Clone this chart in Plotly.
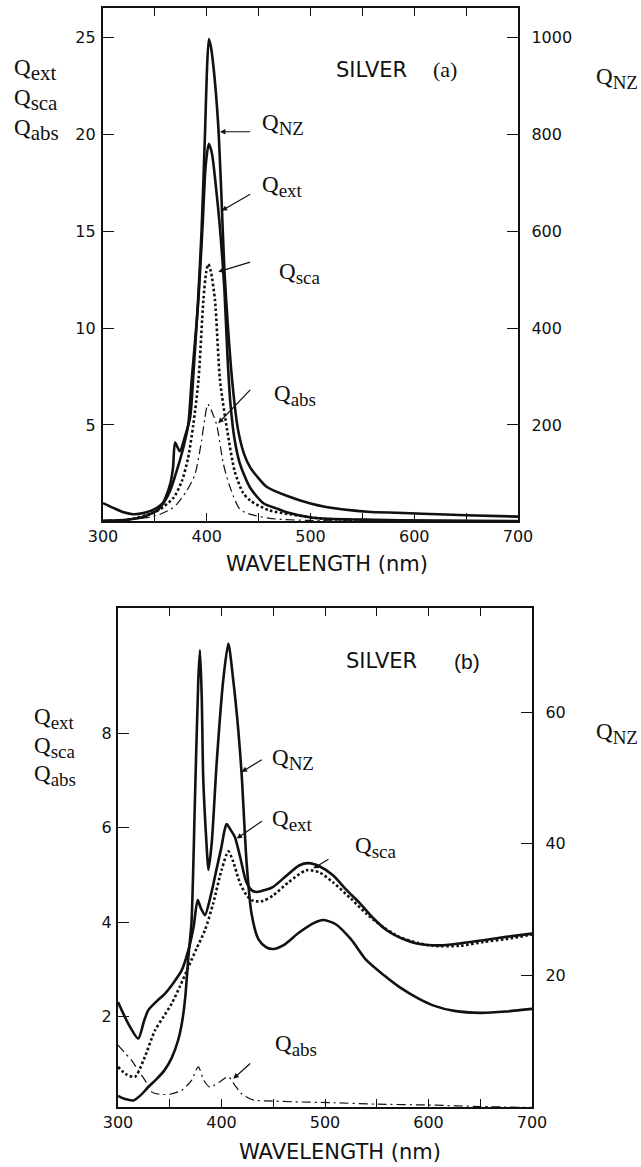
import plotly.graph_objects as go

W, H = 641, 1167

# ---------------- Panel (a) ----------------
wl_nz_a = [300, 310, 320, 329, 340, 352, 358, 361.7, 365, 367.5, 369.5, 374, 379, 384, 387,
           391.6, 395, 398.3, 400, 402, 404, 407, 411, 414, 417, 420.5, 425, 430, 436, 442,
           450, 458, 477, 500, 515, 555, 583, 608, 650, 700]
qnz_a = [39, 29, 20, 16, 19, 29, 40, 58, 80, 112, 164, 146, 176, 216, 300,
         456, 600, 800, 920, 996, 980, 928, 820, 680, 520, 400, 280, 192, 140, 112,
         90, 72, 54, 38, 31, 21, 19, 17, 14, 11]

wl_ext_a = [300, 315, 325, 335.7, 345, 351.7, 358, 364.6, 371, 377.4, 382.2, 385.4, 389, 392,
            396, 399, 402, 405, 409, 413, 417, 420, 423, 427, 432, 442, 455, 467, 477, 502,
            550, 620, 700]
qext_a = [0.05, 0.08, 0.13, 0.22, 0.4, 0.57, 0.95, 1.6, 2.63, 3.83, 5.03, 7.27, 9.5, 11.5,
          15.3, 18.4, 19.5, 19.0, 17.2, 15.0, 12.0, 8.5, 6.0, 4.2, 3.0, 1.75, 0.95, 0.7, 0.5, 0.22,
          0.12, 0.07, 0.05]

wl_sca_a = [300, 320, 342, 355, 368, 376, 382, 387, 392, 396.7, 399.5, 401.5, 404, 408,
            412.8, 419.8, 427, 435, 442, 460, 480, 512, 560, 620, 700]
qsca_a = [0.02, 0.08, 0.35, 0.65, 1.25, 2.1, 3.3, 5.0, 7.3, 11.4, 12.9, 13.3, 12.9, 11.4,
          7.3, 4.7, 2.6, 1.5, 1.1, 0.6, 0.4, 0.17, 0.09, 0.05, 0.03]

wl_abs_a = [300, 320, 342, 355, 365, 371, 380.6, 388.7, 395, 398, 401, 404, 409.6, 416,
            422.4, 432, 445, 467, 500, 600, 700]
qabs_a = [0.1, 0.12, 0.22, 0.4, 0.65, 0.91, 1.6, 2.46, 4.2, 5.3, 6.07, 5.8, 5.0, 3.0,
          1.8, 0.65, 0.35, 0.15, 0.08, 0.03, 0.02]

# ---------------- Panel (b) ----------------
wl_nz_b = [300, 307, 315, 322, 329, 337, 345, 352, 358, 362, 365, 368, 371, 374.4, 377.6,
           379.2, 380.9, 382.4, 385.7, 387.3, 390.5, 395.3, 401.7, 406.6, 411.3, 416.2, 419.4,
           424.3, 429, 435.6, 443, 450, 460, 475, 490, 498, 510, 525, 540, 557, 572, 590,
           605, 625, 650, 675, 700]
qnz_b = [1.7, 1.2, 1.0, 1.8, 3.0, 4.2, 5.6, 7.5, 10.1, 13, 16.7, 22.8, 28, 47, 65,
         69.4, 62.3, 49.7, 39.5, 36, 40, 52.2, 64.9, 70.4, 64.9, 57.3, 50.7,
         37, 29.4, 25.5, 24.3, 24.0, 24.6, 26.5, 28.0, 28.4, 27.8, 25.5, 22.3, 20, 18.2, 16.5,
         15.4, 14.6, 14.3, 14.5, 14.9]

wl_ext_b = [300, 310, 319.6, 325, 329.3, 337, 345.4, 353, 361.5, 368, 373, 377, 380, 384,
            390, 395, 400, 403, 405, 409, 413, 418, 424, 429, 434, 442, 450, 463, 475, 484,
            495, 508, 520, 533.8, 546, 559.6, 575, 588.6, 611, 630, 653, 675, 700]
qext_b = [2.31, 1.85, 1.54, 1.9, 2.14, 2.32, 2.49, 2.7, 2.98, 3.41, 3.9, 4.47, 4.3, 4.15,
          4.6, 5.1, 5.6, 5.95, 6.08, 5.95, 5.8, 5.38, 4.85, 4.68, 4.64, 4.68, 4.75, 4.99, 5.2, 5.25,
          5.18, 4.99, 4.7, 4.4, 4.1, 3.83, 3.65, 3.55, 3.51, 3.55, 3.62, 3.69, 3.76]

wl_sca_b = [300, 308, 316.4, 325, 335.7, 344, 351.9, 360, 368, 376, 384, 392, 400, 406.6,
            411, 418, 425, 431, 440, 450, 465, 482, 495, 508, 525, 540, 556, 572, 590, 605,
            630, 653, 680, 700]
qsca_b = [0.94, 0.78, 0.73, 1.1, 1.71, 2.0, 2.28, 2.65, 3.05, 3.45, 3.83, 4.4, 5.1, 5.5,
          5.3, 4.82, 4.55, 4.45, 4.45, 4.57, 4.85, 5.1, 5.05, 4.84, 4.5, 4.18, 3.9, 3.69, 3.56, 3.5,
          3.5, 3.58, 3.66, 3.74]

wl_abs_b = [300, 306, 313, 320, 326, 332.5, 340, 350, 361.5, 367, 371.2, 377.6, 383, 388.9,
            398, 406.6, 413, 419.4, 426, 432.4, 443.7, 470, 508, 550, 604, 650, 700]
qabs_b = [1.4, 1.25, 1.08, 0.85, 0.66, 0.41, 0.36, 0.36, 0.44, 0.55, 0.66, 0.94, 0.65, 0.51,
          0.62, 0.73, 0.55, 0.37, 0.28, 0.23, 0.22, 0.2, 0.18, 0.15, 0.13, 0.1, 0.08]

# axis ticks
x_ticks = list(range(300, 701, 50))
x_text = [str(v) if v % 100 == 0 else "" for v in x_ticks]
ya_left_ticks = [5, 10, 15, 20, 25]
ya_right_ticks = [200, 400, 600, 800, 1000]
yb_left_ticks = [2, 4, 6, 8]
yb_right_ticks = [20, 40, 60]

INK = "#111111"
SOLID = dict(color=INK, width=2.6)
DOTTED = dict(color=INK, width=2.6, dash="2.6px,2.4px")
DASHDOT = dict(color=INK, width=1.2, dash="9px,4px,2px,4px")


def curve(x, y, line, xa, ya):
    return go.Scatter(x=x, y=y, mode="lines", line=dict(shape="spline", smoothing=0.7, **line),
                      xaxis=xa, yaxis=ya, showlegend=False, hoverinfo="skip")


fig = go.Figure()
fig.add_trace(curve(wl_nz_a, qnz_a, SOLID, "x", "y2"))
fig.add_trace(curve(wl_ext_a, qext_a, SOLID, "x", "y"))
fig.add_trace(curve(wl_sca_a, qsca_a, DOTTED, "x", "y"))
fig.add_trace(curve(wl_abs_a, qabs_a, DASHDOT, "x", "y"))
fig.add_trace(curve(wl_nz_b, qnz_b, SOLID, "x2", "y4"))
fig.add_trace(curve(wl_ext_b, qext_b, SOLID, "x2", "y3"))
fig.add_trace(curve(wl_sca_b, qsca_b, DOTTED, "x2", "y3"))
fig.add_trace(curve(wl_abs_b, qabs_b, DASHDOT, "x2", "y3"))


def px(v):
    return v / W


def py(v):
    return 1 - v / H


TICKFONT = dict(family="DejaVu Sans", size=16, color=INK)
frame = dict(showline=True, linecolor=INK, linewidth=2.4, showgrid=False, zeroline=False,
             ticks="inside", tickcolor=INK, tickwidth=1.4, tickfont=TICKFONT, automargin=False)

xa = dict(frame, tickmode="array", tickvals=x_ticks, ticktext=x_text, range=[300, 700],
          ticklen=8, mirror="ticks")

fig.update_layout(
    width=W, height=H, autosize=False,
    margin=dict(l=0, r=0, t=0, b=0, pad=0),
    paper_bgcolor="white", plot_bgcolor="white",
    xaxis=dict(xa, domain=[px(103), px(518)], anchor="y"),
    yaxis=dict(frame, domain=[py(521), py(8)], range=[0.05, 26.5], anchor="x",
               tickmode="array", tickvals=ya_left_ticks, ticklen=11, ticklabelstandoff=2),
    yaxis2=dict(frame, overlaying="y", side="right", range=[2, 1060], anchor="x",
                tickmode="array", tickvals=ya_right_ticks, ticklen=11, ticklabelstandoff=8),
    xaxis2=dict(xa, domain=[px(118), px(532)], anchor="y3"),
    yaxis3=dict(frame, domain=[py(1107), py(608)], range=[0.09, 10.65], anchor="x2",
                tickmode="array", tickvals=yb_left_ticks, ticklen=11, ticklabelstandoff=1),
    yaxis4=dict(frame, overlaying="y3", side="right", range=[0, 75.8], anchor="x2",
                tickmode="array", tickvals=yb_right_ticks, ticklen=11, ticklabelstandoff=8),
)

SERIF = "Liberation Serif"
ann = []


def qlabel(name, x, y, xref="paper", yref="paper", size=23, sub=19):
    text = f'Q<sub><span style="font-size:{sub}px">{name}</span></sub>'
    ann.append(dict(text=text, x=x, y=y, xref=xref, yref=yref,
                    xanchor="left", yanchor="middle", showarrow=False,
                    font=dict(family=SERIF, size=size, color=INK)))


def pointer(x0, y0, x1, y1, xref, yref):
    ann.append(dict(text="", x=x1, y=y1, ax=x0, ay=y0, xref=xref, yref=yref,
                    axref=xref, ayref=yref, showarrow=True, arrowhead=2,
                    arrowsize=0.9, arrowwidth=1.2, arrowcolor=INK))


def plain(text, x, y, family, size):
    ann.append(dict(text=text, x=x, y=y, xref="paper", yref="paper", xanchor="left",
                    yanchor="middle", showarrow=False,
                    font=dict(family=family, size=size, color=INK)))


# outer axis captions
for name, yc in (("ext", 70), ("sca", 100), ("abs", 130)):
    qlabel(name, px(12), py(yc), sub=21)
for name, yc in (("ext", 719), ("sca", 747), ("abs", 775)):
    qlabel(name, px(32), py(yc), sub=19)
qlabel("NZ", px(594), py(78))
qlabel("NZ", px(594), py(733))

# panel titles
plain("SILVER", px(334), py(70), "DejaVu Sans", 21)
plain("(a)", px(431), py(70), SERIF, 22)
plain("SILVER", px(344), py(661), "DejaVu Sans", 21)
plain("(b)", px(452), py(661), "Liberation Sans", 21)

# x-axis titles
for xc, yc in ((327, 564), (340, 1152)):
    ann.append(dict(text="WAVELENGTH (nm)", x=px(xc), y=py(yc),
                    xref="paper", yref="paper", xanchor="center", yanchor="middle",
                    showarrow=False, font=dict(family="DejaVu Sans", size=21, color=INK)))

# in-plot labels and pointers, panel (a)
qlabel("NZ", 451.3, 20.5, "x", "y")
pointer(443.3, 20.12, 412.8, 20.12, "x", "y")
qlabel("ext", 451.3, 17.3, "x", "y")
pointer(443.3, 16.94, 414.4, 16.05, "x", "y")
qlabel("sca", 467.7, 12.8, "x", "y")
pointer(443.3, 13.42, 411.1, 12.9, "x", "y")
qlabel("abs", 462.9, 6.5, "x", "y")
pointer(443.3, 6.89, 411.1, 5.09, "x", "y")

# in-plot labels and pointers, panel (b)
qlabel("NZ", 446.9, 7.45, "x2", "y3")
pointer(440.4, 7.46, 419.5, 7.18, "x2", "y3")
qlabel("ext", 446.9, 6.15, "x2", "y3")
pointer(440.4, 6.16, 414.7, 5.77, "x2", "y3")
qlabel("sca", 527.1, 5.58, "x2", "y3")
pointer(504.8, 5.35, 488.7, 5.14, "x2", "y3")
qlabel("abs", 449.8, 1.4, "x2", "y3")
pointer(429.2, 1.04, 411.4, 0.69, "x2", "y3")

fig.update_layout(annotations=ann)
fig.write_html("out.html")
